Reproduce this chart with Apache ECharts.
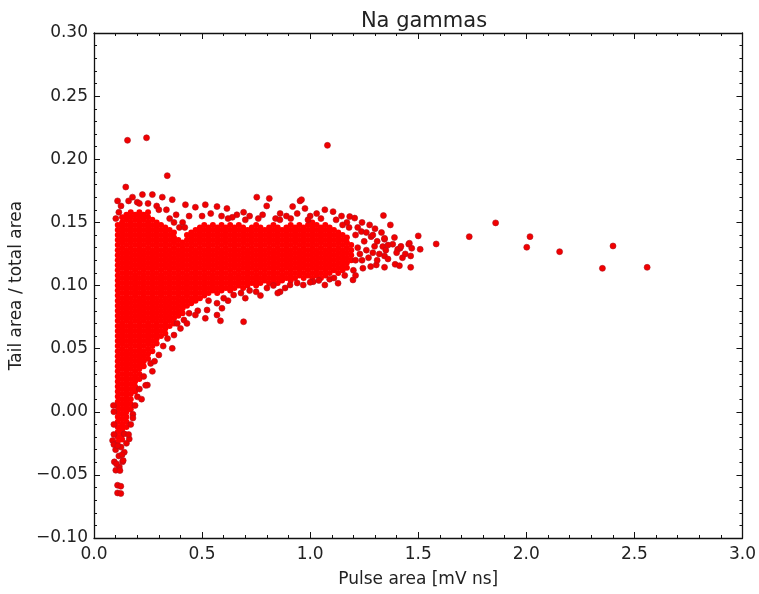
<!DOCTYPE html>
<html><head><meta charset="utf-8">
<script src="https://cdn.jsdelivr.net/npm/echarts@6/dist/echarts.min.js"></script>
<style>html,body{margin:0;padding:0;background:#fff}#c{width:759px;height:594px}</style>
</head><body><div id="c"></div>
<script>
const chartTitle = 'Na gammas';
const xLabel = 'Pulse area [mV ns]';
const yLabel = 'Tail area / total area';
const xTicks = [0.0, 0.5, 1.0, 1.5, 2.0, 2.5, 3.0];
const yTicks = [-0.10, -0.05, 0.00, 0.05, 0.10, 0.15, 0.20, 0.25, 0.30];

// Saturated core of the cloud: pulse-area columns and the tail ratios (per mille) read in each column
const coreX = [0.11,0.13,0.15,0.17,0.19,0.21,0.23,0.25,0.27,0.29,0.31,0.33,0.35,0.37,0.39,0.41,0.43,0.45,0.47,0.49,
  0.51,0.53,0.55,0.57,0.59,0.61,0.63,0.65,0.67,0.69,0.71,0.73,0.75,0.77,0.79,0.81,0.83,0.85,0.87,0.89,
  0.91,0.93,0.95,0.97,0.99,1.01,1.03,1.05,1.07,1.09,1.11,1.13,1.15,1.17,1.19];
const coreYpm = [
  [-24,-20,-16,-12,-8,-4,0,4,8,12,16,20,24,28,32,36,40,44,48,52,56,60,64,68,72,76,80,84,88,92,96,100,104,108,112,116,120,124,128,132,136,140,144,148],
  [-22,-18,-14,-10,-6,-2,2,6,10,14,18,22,26,30,34,38,42,46,50,54,58,62,66,70,74,78,82,86,90,94,98,102,106,110,114,118,122,126,130,134,138,142,146,150,154],
  [-12,-8,-4,0,4,8,12,16,20,24,28,32,36,40,44,48,52,56,60,64,68,72,76,80,84,88,92,96,100,104,108,112,116,120,124,128,132,136,140,144,148,152,156],
  [2,6,10,14,18,22,26,30,34,38,42,46,50,54,58,62,66,70,74,78,82,86,90,94,98,102,106,110,114,118,122,126,130,134,138,142,146,150,154,158],
  [16,20,24,28,32,36,40,44,48,52,56,60,64,68,72,76,80,84,88,92,96,100,104,108,112,116,120,124,128,132,136,140,144,148,152,156],
  [26,30,34,38,42,46,50,54,58,62,66,70,74,78,82,86,90,94,98,102,106,110,114,118,122,126,130,134,138,142,146,150,154,158],
  [36,40,44,48,52,56,60,64,68,72,76,80,84,88,92,96,100,104,108,112,116,120,124,128,132,136,140,144,148,152,156],
  [42,46,50,54,58,62,66,70,74,78,82,86,90,94,98,102,106,110,114,118,122,126,130,134,138,142,146,150,154,158],
  [48,52,56,60,64,68,72,76,80,84,88,92,96,100,104,108,112,116,120,124,128,132,136,140,144,148,152],
  [54,58,62,66,70,74,78,82,86,90,94,98,102,106,110,114,118,122,126,130,134,138,142,146,150],
  [60,64,68,72,76,80,84,88,92,96,100,104,108,112,116,120,124,128,132,136,140,144,148],
  [62,66,70,74,78,82,86,90,94,98,102,106,110,114,118,122,126,130,134,138,142,146],
  [68,72,76,80,84,88,92,96,100,104,108,112,116,120,124,128,132,136,140,144],
  [70,74,78,82,86,90,94,98,102,106,110,114,118,122,126,130,134,138,142],
  [76,80,84,88,92,96,100,104,108,112,116,120,124,128,132,136],
  [78,82,86,90,94,98,102,106,110,114,118,122,126,130,134],
  [84,88,92,96,100,104,108,112,116,120,124,128,132,136,140],
  [86,90,94,98,102,106,110,114,118,122,126,130,134,138,142],
  [88,92,96,100,104,108,112,116,120,124,128,132,136,140,144],
  [90,94,98,102,106,110,114,118,122,126,130,134,138,142,146],
  [92,96,100,104,108,112,116,120,124,128,132,136,140,144,148],
  [94,98,102,106,110,114,118,122,126,130,134,138,142,146],
  [96,100,104,108,112,116,120,124,128,132,136,140,144,148],
  [94,98,102,106,110,114,118,122,126,130,134,138,142,146],
  [96,100,104,108,112,116,120,124,128,132,136,140,144,148],
  [98,102,106,110,114,118,122,126,130,134,138,142,146],
  [96,100,104,108,112,116,120,124,128,132,136,140,144,148],
  [98,102,106,110,114,118,122,126,130,134,138,142,146],
  [100,104,108,112,116,120,124,128,132,136,140,144,148],
  [98,102,106,110,114,118,122,126,130,134,138,142,146],
  [100,104,108,112,116,120,124,128,132,136,140,144],
  [102,106,110,114,118,122,126,130,134,138,142,146],
  [100,104,108,112,116,120,124,128,132,136,140,144,148],
  [102,106,110,114,118,122,126,130,134,138,142,146],
  [104,108,112,116,120,124,128,132,136,140,144],
  [102,106,110,114,118,122,126,130,134,138,142,146],
  [104,108,112,116,120,124,128,132,136,140,144,148],
  [102,106,110,114,118,122,126,130,134,138,142,146],
  [104,108,112,116,120,124,128,132,136,140,144],
  [106,110,114,118,122,126,130,134,138,142,146],
  [104,108,112,116,120,124,128,132,136,140,144,148],
  [106,110,114,118,122,126,130,134,138,142,146],
  [108,112,116,120,124,128,132,136,140,144,148],
  [106,110,114,118,122,126,130,134,138,142,146],
  [108,112,116,120,124,128,132,136,140,144,148],
  [106,110,114,118,122,126,130,134,138,142,146,150],
  [108,112,116,120,124,128,132,136,140,144,148],
  [106,110,114,118,122,126,130,134,138,142,146],
  [108,112,116,120,124,128,132,136,140,144,148],
  [110,114,118,122,126,130,134,138,142,146],
  [112,116,120,124,128,132,136,140,144],
  [110,114,118,122,126,130,134,138,142],
  [112,116,120,124,128,132,136,140],
  [114,118,122,126,130,134,138],
  [120,124,128,132]
];

// Individually visible points around the core
const fringePoints = [
  [0.155,0.215],[0.243,0.217],[1.080,0.211],[0.339,0.187],[0.147,0.178],
  [0.109,0.167],[0.178,0.170],[0.224,0.172],[0.270,0.172],[0.316,0.170],[0.362,0.168],[0.423,0.164],[0.469,0.162],
  [0.101,0.153],[0.125,0.163],[0.200,0.166],[0.250,0.165],[0.290,0.163],[0.335,0.160],[0.380,0.156],[0.410,0.150],
  [0.440,0.155],[0.115,0.158],[0.160,0.167],[0.210,0.165],[0.300,0.160],[0.350,0.153],[0.395,0.146],[0.420,0.146],[0.370,0.150],
  [0.515,0.164],[0.569,0.1625],[0.615,0.161],[0.692,0.158],[0.753,0.170],[0.811,0.169],[0.953,0.167],[0.799,0.163],
  [0.861,0.157],[0.919,0.1625],[0.661,0.156],[0.540,0.157],[0.590,0.155],[0.640,0.154],[0.720,0.155],[0.780,0.156],
  [0.840,0.153],[0.890,0.155],[0.940,0.157],[0.976,0.161],[0.960,0.168],[1.000,0.155],[1.030,0.157],[1.068,0.160],
  [1.106,0.1585],[1.145,0.155],[1.183,0.1546],[1.206,0.1534],[0.700,0.152],[0.860,0.152],[1.050,0.153],[1.120,0.152],
  [0.500,0.155],[0.620,0.153],[0.760,0.153],[0.910,0.153],[0.990,0.152],
  [1.237,0.1427],[1.275,0.148],[1.282,0.1387],[1.298,0.131],[1.306,0.1163],[1.244,0.1137],[1.198,0.1044],[1.129,0.1018],
  [1.068,0.1004],[1.014,0.103],[0.968,0.1004],[1.339,0.1554],[1.371,0.148],[1.344,0.1366],[1.382,0.1327],[1.416,0.1295],
  [1.456,0.1327],[1.470,0.1295],[1.509,0.1287],[1.427,0.1220],[1.465,0.1234],[1.344,0.1234],[1.344,0.1144],[1.393,0.1168],
  [1.413,0.1157],[1.465,0.1144],[1.336,0.1308],[1.405,0.1287],[1.500,0.1393],[1.583,0.1329],[1.736,0.1387],[1.858,0.1496],
  [2.017,0.1387],[2.002,0.1303],[2.154,0.1268],[2.401,0.1313],[2.352,0.1136],[2.559,0.1144],[1.459,0.1335],[1.420,0.131],[1.344,0.1374],
  [1.21,0.140],[1.22,0.130],[1.21,0.120],[1.23,0.125],[1.25,0.135],[1.26,0.128],[1.24,0.120],[1.27,0.122],[1.29,0.126],
  [1.31,0.135],[1.32,0.125],[1.20,0.112],[1.22,0.146],[1.26,0.142],[1.29,0.140],[1.30,0.145],[1.33,0.142],[1.35,0.128],
  [1.36,0.132],[1.31,0.120],[1.28,0.115],[1.36,0.121],[1.39,0.138],[1.40,0.126],[1.44,0.125],[1.21,0.108],[1.16,0.108],
  [1.18,0.146],[1.17,0.150],[1.24,0.150],[1.15,0.148],
  [0.861,0.095],[0.850,0.094],[0.884,0.098],[0.692,0.0713],[0.646,0.0925],[0.592,0.082],[0.569,0.0766],[0.523,0.0806],
  [0.515,0.074],[0.569,0.086],[0.907,0.1004],[0.480,0.080],[0.530,0.088],[0.585,0.072],[0.620,0.088],[0.680,0.094],
  [0.720,0.096],[0.750,0.095],[0.800,0.098],[0.830,0.100],[0.940,0.102],[1.000,0.1025],[1.040,0.104],[1.090,0.105],
  [1.110,0.106],[0.770,0.092],[0.600,0.090],[0.700,0.090],
  [0.469,0.0766],[0.416,0.0727],[0.370,0.0607],[0.362,0.0502],[0.262,0.0383],[0.247,0.0211],[0.201,0.0118],[0.239,0.0209],
  [0.440,0.078],[0.400,0.066],[0.340,0.058],[0.300,0.045],[0.280,0.040],[0.230,0.028],[0.210,0.018],[0.190,0.005],
  [0.180,-0.002],[0.430,0.070],[0.385,0.070],[0.320,0.052],[0.270,0.032],[0.220,0.010],
  [0.094,-0.0397],[0.117,-0.0437],[0.101,-0.0463],[0.132,-0.0397],[0.109,-0.0582],[0.124,-0.059],[0.109,-0.0643],
  [0.124,-0.0648],[0.104,-0.0413],[0.120,-0.0466],[0.135,-0.0386],[0.086,-0.0228],[0.163,-0.0215],[0.140,-0.0175],
  [0.100,-0.030],[0.125,-0.028],[0.140,-0.032],[0.115,-0.035],[0.130,-0.034],[0.092,-0.026],[0.150,-0.025],[0.110,-0.027],
  [0.092,-0.010],[0.092,0.000],[0.090,0.005],[0.092,-0.018],[0.160,-0.018],[0.170,-0.010],[0.180,-0.005]
];

const coreData = [];
coreX.forEach((x, i) => coreYpm[i].forEach(v => coreData.push([x, v / 1000])));

const FONT = 'DejaVu Sans';
const TXT = '#222';
const minus = s => s.replace('-', '\u2212');
const xStep = xTicks[1] - xTicks[0];
const yStep = +(yTicks[1] - yTicks[0]).toFixed(4);

const baseAxis = {
  axisLine: { show: true, onZero: false, lineStyle: { color: '#111', width: 1.3 } },
  axisTick: { show: true, inside: true, length: 6, lineStyle: { color: '#111', width: 1 } },
  minorTick: { show: true, splitNumber: 5, length: 3, lineStyle: { color: '#111', width: 1 } },
  splitLine: { show: false }
};

const chart = echarts.init(document.getElementById('c'), null, { renderer: 'canvas' });
chart.setOption({
  animation: false,
  backgroundColor: '#fff',
  title: {
    text: chartTitle, left: 419, top: 6, textAlign: 'center',
    textStyle: { fontFamily: FONT, fontSize: 21, fontWeight: 'normal', color: TXT }
  },
  grid: { left: 93, right: 14, top: 33, bottom: 56, containLabel: false },
  xAxis: [
    Object.assign({}, baseAxis, {
      type: 'value', position: 'bottom', min: xTicks[0], max: xTicks[xTicks.length - 1], interval: xStep,
      name: xLabel, nameLocation: 'middle', nameGap: 33,
      nameTextStyle: { fontFamily: FONT, fontSize: 17, color: TXT },
      axisLabel: { fontFamily: FONT, fontSize: 17, color: TXT, margin: 8, formatter: v => minus(v.toFixed(1)) }
    }),
    Object.assign({}, baseAxis, {
      type: 'value', position: 'top', min: xTicks[0], max: xTicks[xTicks.length - 1], interval: xStep,
      axisLabel: { show: false }
    })
  ],
  yAxis: [
    Object.assign({}, baseAxis, {
      type: 'value', position: 'left', min: yTicks[0], max: yTicks[yTicks.length - 1], interval: yStep,
      name: yLabel, nameLocation: 'middle', nameGap: 64, nameRotate: 90,
      nameTextStyle: { fontFamily: FONT, fontSize: 17, color: TXT },
      axisLabel: { fontFamily: FONT, fontSize: 17, color: TXT, margin: 6, formatter: v => minus(v.toFixed(2)) }
    }),
    Object.assign({}, baseAxis, {
      type: 'value', position: 'right', min: yTicks[0], max: yTicks[yTicks.length - 1], interval: yStep,
      axisLabel: { show: false }
    })
  ],
  series: [
    {
      type: 'scatter', xAxisIndex: 0, yAxisIndex: 0, data: coreData,
      symbol: 'circle', symbolSize: 6, silent: true,
      itemStyle: { color: '#ff0000', opacity: 1 }
    },
    {
      type: 'scatter', xAxisIndex: 0, yAxisIndex: 0, data: fringePoints,
      symbol: 'circle', symbolSize: 6, silent: true,
      itemStyle: { color: '#f20000', borderColor: '#b0101c', borderWidth: 0.6, opacity: 1 }
    }
  ]
});
</script>
</body></html>
